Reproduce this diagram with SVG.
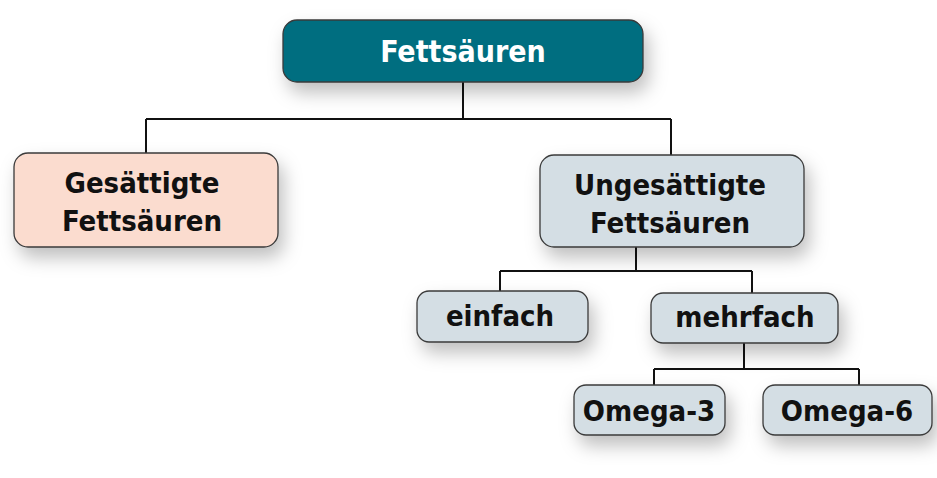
<svg xmlns="http://www.w3.org/2000/svg" width="937" height="478" viewBox="0 0 937 478">
<defs>
<filter id="sh" x="-20%" y="-30%" width="150%" height="190%">
<feDropShadow dx="5" dy="10" stdDeviation="9" flood-color="#000" flood-opacity="0.25"/>
</filter>
<style>
.box{stroke:#3a3a3a;stroke-width:1.3;filter:url(#sh)}
.top{fill:#006e80}
.peach{fill:#fbdccf}
.blue{fill:#d4dee4}
.t{font-family:"DejaVu Sans Condensed","Liberation Sans Narrow","Liberation Sans",sans-serif;font-weight:bold;font-stretch:condensed;text-anchor:middle;fill:#111;font-size:29px}
.w{fill:#fff}
.c{fill:none;stroke:#111;stroke-width:2}
</style>
</defs>
<rect width="937" height="478" fill="#fff"/>
<g id="connectors">
<path class="c" d="M463 82V119M146 119H671M146 119V154M671 119V156"/>
<path class="c" d="M636 247V271M500 271H752M500 271V292M752 271V294"/>
<path class="c" d="M744 343V369M654 369H859M654 369V386M859 369V386"/>
</g>
<g id="n-fettsaeuren">
<rect class="box top" x="283" y="20" width="360" height="62" rx="14"/>
<text class="t w" x="463" y="62" style="font-size:30px">Fettsäuren</text>
</g>
<g id="n-gesaettigte">
<rect class="box peach" x="14" y="153" width="264" height="94" rx="14"/>
<text class="t" x="142" y="193">Gesättigte</text>
<text class="t" x="142" y="231">Fettsäuren</text>
</g>
<g id="n-ungesaettigte">
<rect class="box blue" x="540" y="155" width="264" height="92" rx="14"/>
<text class="t" x="670" y="195">Ungesättigte</text>
<text class="t" x="670" y="233">Fettsäuren</text>
</g>
<g id="n-einfach">
<rect class="box blue" x="417" y="291" width="171" height="51" rx="12"/>
<text class="t" x="500" y="326">einfach</text>
</g>
<g id="n-mehrfach">
<rect class="box blue" x="651" y="293" width="187" height="50" rx="12"/>
<text class="t" x="745" y="327">mehrfach</text>
</g>
<g id="n-omega3">
<rect class="box blue" x="574" y="385" width="151" height="50" rx="12"/>
<text class="t" x="649" y="421">Omega-3</text>
</g>
<g id="n-omega6">
<rect class="box blue" x="763" y="385" width="169" height="50" rx="12"/>
<text class="t" x="847" y="421">Omega-6</text>
</g>
</svg>
